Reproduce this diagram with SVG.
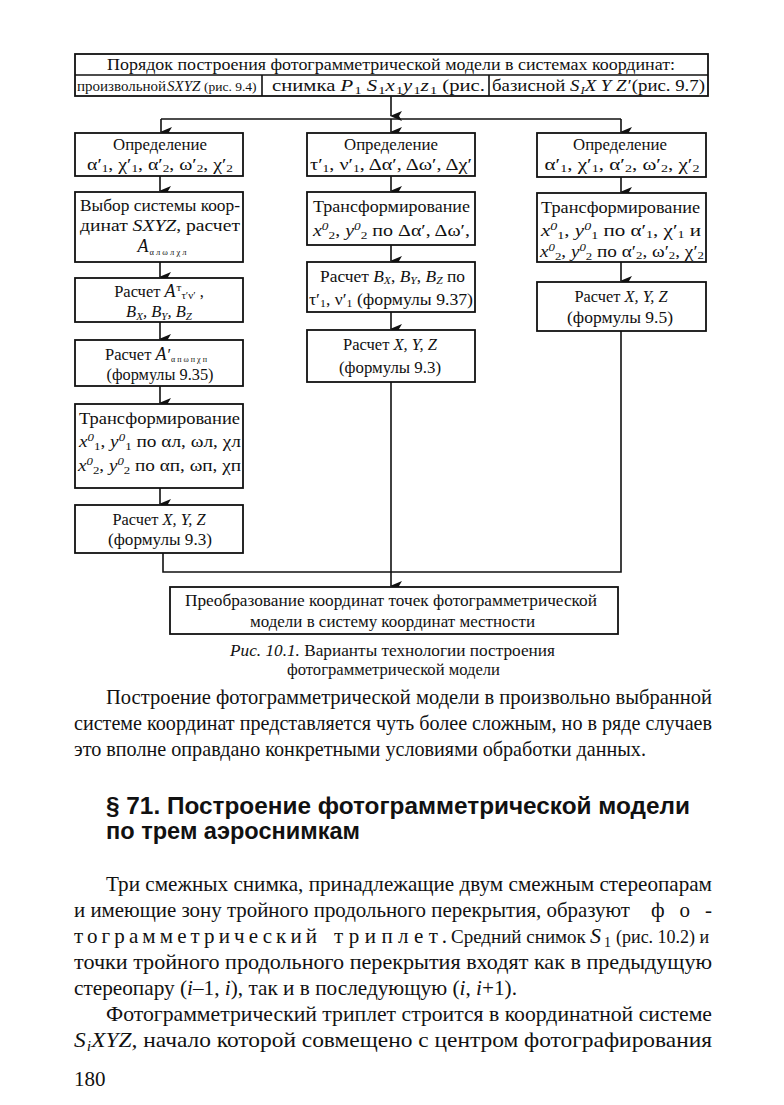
<svg xmlns="http://www.w3.org/2000/svg" width="784" height="1105" viewBox="0 0 784 1105">
<style>
.bx{fill:#fff;stroke:#111;stroke-width:1.8}
.ln{fill:none;stroke:#111;stroke-width:1.6}
.t{font-family:"Liberation Serif","Times New Roman",serif;font-size:16.5px;fill:#111}
.c{text-anchor:middle}
.i{font-style:italic}
.sb{font-size:11px}
.body{font-family:"Liberation Serif","Times New Roman",serif;font-size:21px;fill:#111}
.h{font-family:"Liberation Sans",Arial,sans-serif;font-size:23px;font-weight:bold;fill:#111}
</style>
<defs>
<marker id="ar" markerUnits="userSpaceOnUse" markerWidth="10" markerHeight="12" refX="5" refY="11" orient="auto" viewBox="0 0 10 12">
<path d="M0,0 L5,3 L10,0 L5,12 Z" fill="#111"/>
</marker>
</defs>
<rect width="784" height="1105" fill="#fff"/>

<g id="connectors">
<line class="ln" x1="391" y1="96" x2="391" y2="116" marker-end="url(#ar)"/>
<polyline class="ln" points="161,119 621,119"/>
<line class="ln" x1="161" y1="119" x2="161" y2="132" marker-end="url(#ar)"/>
<line class="ln" x1="391" y1="119" x2="391" y2="132" marker-end="url(#ar)"/>
<line class="ln" x1="621" y1="119" x2="621" y2="132" marker-end="url(#ar)"/>
<line class="ln" x1="160" y1="176" x2="160" y2="191" marker-end="url(#ar)"/>
<line class="ln" x1="160" y1="262" x2="160" y2="277" marker-end="url(#ar)"/>
<line class="ln" x1="160" y1="322" x2="160" y2="339" marker-end="url(#ar)"/>
<line class="ln" x1="160" y1="386" x2="160" y2="403" marker-end="url(#ar)"/>
<line class="ln" x1="160" y1="488" x2="160" y2="504" marker-end="url(#ar)"/>
<polyline class="ln" points="163,553 163,572 621,572 621,331"/>
<line class="ln" x1="391" y1="176" x2="391" y2="191" marker-end="url(#ar)"/>
<line class="ln" x1="391" y1="245" x2="391" y2="261" marker-end="url(#ar)"/>
<line class="ln" x1="391" y1="312" x2="391" y2="329" marker-end="url(#ar)"/>
<line class="ln" x1="391" y1="382" x2="391" y2="586" marker-end="url(#ar)"/>
<line class="ln" x1="621" y1="177" x2="621" y2="192" marker-end="url(#ar)"/>
<line class="ln" x1="621" y1="262" x2="621" y2="281" marker-end="url(#ar)"/>
</g>

<g id="header">
<rect class="bx" x="75" y="54" width="633" height="42"/>
<line class="ln" x1="75" y1="75" x2="708" y2="75"/>
<line class="ln" x1="262" y1="75" x2="262" y2="96"/>
<line class="ln" x1="489" y1="75" x2="489" y2="96"/>
<text class="t" x="107" y="70" textLength="568" lengthAdjust="spacingAndGlyphs">Порядок построения  фотограмметрической модели  в  системах координат:</text>
<text class="t" x="77" y="91" style="font-size:15px">произвольной</text>
<text class="t i" x="167" y="91" style="font-size:15px">SXYZ</text>
<text class="t" x="204" y="91" style="font-size:13.5px">(рис. 9.4)</text>
<text class="t" x="272" y="91" style="font-size:16px" textLength="213" lengthAdjust="spacingAndGlyphs">снимка  <tspan class="i">P</tspan><tspan class="sb" dy="3" dx="1">1</tspan><tspan dy="-3"> </tspan><tspan class="i">S</tspan><tspan class="sb" dy="3" dx="1">1</tspan><tspan class="i" dy="-3">x</tspan><tspan class="sb" dy="3" dx="1">1</tspan><tspan class="i" dy="-3">y</tspan><tspan class="sb" dy="3" dx="1">1</tspan><tspan class="i" dy="-3">z</tspan><tspan class="sb" dy="3" dx="1">1</tspan><tspan dy="-3"> (рис.</tspan></text>
<text class="t" x="492" y="91" textLength="213" lengthAdjust="spacingAndGlyphs">базисной <tspan class="i">S</tspan><tspan class="sb i" dy="3" dx="1">I</tspan><tspan class="i" dy="-3">X Y Z′</tspan><tspan dx="1">(рис. 9.7)</tspan></text>
</g>

<g id="L1">
<rect class="bx" x="75" y="133" width="168" height="43"/>
<text class="t c" x="160" y="150" textLength="94" lengthAdjust="spacingAndGlyphs">Определение</text>
<text class="t c" x="160" y="170" textLength="146" lengthAdjust="spacingAndGlyphs">α′<tspan class="sb" dy="2">1</tspan><tspan dy="-2">, χ′</tspan><tspan class="sb" dy="2">1</tspan><tspan dy="-2">, α′</tspan><tspan class="sb" dy="2">2</tspan><tspan dy="-2">, ω′</tspan><tspan class="sb" dy="2">2</tspan><tspan dy="-2">, χ′</tspan><tspan class="sb" dy="2">2</tspan></text>
</g>

<g id="L2">
<rect class="bx" x="75" y="192" width="168" height="70"/>
<text class="t" x="80" y="211" textLength="160" lengthAdjust="spacingAndGlyphs">Выбор системы коор-</text>
<text class="t" x="80" y="231" textLength="160" lengthAdjust="spacingAndGlyphs">динат <tspan class="i">SXYZ</tspan>,  расчет</text>
<text class="t c" x="162" y="252"><tspan class="i" style="font-size:18px">A</tspan><tspan style="font-size:8.5px" dy="3" dx="1">α л ω л χ л</tspan></text>
</g>

<g id="L3">
<rect class="bx" x="75" y="278" width="168" height="44"/>
<text class="t c" x="159" y="297">Расчет  <tspan class="i" style="font-size:18px">A</tspan><tspan class="sb" dy="-6" dx="1">т</tspan><tspan class="sb" dy="8">τ′ν′</tspan><tspan dy="-2"> ,</tspan></text>
<text class="t c i" x="159" y="317">B<tspan class="sb" dy="3">X</tspan><tspan dy="-3">, B</tspan><tspan class="sb" dy="3">Y</tspan><tspan dy="-3">, B</tspan><tspan class="sb" dy="3">Z</tspan></text>
</g>

<g id="L4">
<rect class="bx" x="75" y="340" width="168" height="46"/>
<text class="t c" x="156" y="360">Расчет  <tspan class="i" style="font-size:18px">A</tspan><tspan dx="1">′</tspan><tspan style="font-size:8px" dy="2">α п ω п χ п</tspan></text>
<text class="t c" x="160" y="380" textLength="107" lengthAdjust="spacingAndGlyphs">(формулы 9.35)</text>
</g>

<g id="L5">
<rect class="bx" x="75" y="404" width="168" height="84"/>
<text class="t" x="79" y="424" textLength="161" lengthAdjust="spacingAndGlyphs">Трансформирование</text>
<text class="t" x="79" y="447" textLength="162" lengthAdjust="spacingAndGlyphs"><tspan class="i">x</tspan><tspan class="sb i" dy="-6">0</tspan><tspan class="sb" dy="9">1</tspan><tspan dy="-3">, </tspan><tspan class="i">y</tspan><tspan class="sb i" dy="-6">0</tspan><tspan class="sb" dy="9">1</tspan><tspan dy="-3"> по αл, ωл, χл</tspan></text>
<text class="t" x="78" y="471" textLength="163" lengthAdjust="spacingAndGlyphs"><tspan class="i">x</tspan><tspan class="sb i" dy="-6">0</tspan><tspan class="sb" dy="9">2</tspan><tspan dy="-3">, </tspan><tspan class="i">y</tspan><tspan class="sb i" dy="-6">0</tspan><tspan class="sb" dy="9">2</tspan><tspan dy="-3">  по αп, ωп, χп</tspan></text>
</g>

<g id="L6">
<rect class="bx" x="75" y="505" width="168" height="48"/>
<text class="t c" x="159" y="525" textLength="93" lengthAdjust="spacingAndGlyphs">Расчет <tspan class="i">X, Y, Z</tspan></text>
<text class="t c" x="160" y="545" textLength="104" lengthAdjust="spacingAndGlyphs">(формулы 9.3)</text>
</g>

<g id="M1">
<rect class="bx" x="307" y="133" width="168" height="43"/>
<text class="t c" x="391" y="150" textLength="94" lengthAdjust="spacingAndGlyphs">Определение</text>
<text class="t" x="310" y="170" textLength="162" lengthAdjust="spacingAndGlyphs">τ′<tspan class="sb" dy="2">1</tspan><tspan dy="-2">, ν′</tspan><tspan class="sb" dy="2">1</tspan><tspan dy="-2">, Δα′, Δω′, Δχ′</tspan></text>
</g>

<g id="M2">
<rect class="bx" x="307" y="192" width="168" height="53"/>
<text class="t" x="313" y="212" textLength="157" lengthAdjust="spacingAndGlyphs">Трансформирование</text>
<text class="t" x="313" y="236" textLength="157" lengthAdjust="spacingAndGlyphs"><tspan class="i">x</tspan><tspan class="sb i" dy="-6">0</tspan><tspan class="sb" dy="9">2</tspan><tspan dy="-3">, </tspan><tspan class="i">y</tspan><tspan class="sb i" dy="-6">0</tspan><tspan class="sb" dy="9">2</tspan><tspan dy="-3"> по Δα′, Δω′,</tspan></text>
</g>

<g id="M3">
<rect class="bx" x="307" y="262" width="168" height="50"/>
<text class="t" x="320" y="282" textLength="145" lengthAdjust="spacingAndGlyphs">Расчет <tspan class="i">B</tspan><tspan class="sb i" dy="2">X</tspan><tspan dy="-2">, </tspan><tspan class="i">B</tspan><tspan class="sb i" dy="2">Y</tspan><tspan dy="-2">, </tspan><tspan class="i">B</tspan><tspan class="sb i" dy="2">Z</tspan><tspan dy="-2">  по</tspan></text>
<text class="t" x="309" y="305" textLength="164" lengthAdjust="spacingAndGlyphs">τ′<tspan class="sb" dy="2">1</tspan><tspan dy="-2">, ν′</tspan><tspan class="sb" dy="2">1</tspan><tspan dy="-2"> (формулы 9.37)</tspan></text>
</g>

<g id="M4">
<rect class="bx" x="307" y="330" width="168" height="52"/>
<text class="t c" x="390" y="350" textLength="94" lengthAdjust="spacingAndGlyphs">Расчет <tspan class="i">X, Y, Z</tspan></text>
<text class="t c" x="390" y="373" textLength="102" lengthAdjust="spacingAndGlyphs">(формулы 9.3)</text>
</g>

<g id="R1">
<rect class="bx" x="537" y="133" width="169" height="44"/>
<text class="t c" x="620" y="150" textLength="94" lengthAdjust="spacingAndGlyphs">Определение</text>
<text class="t c" x="622" y="170" textLength="155" lengthAdjust="spacingAndGlyphs">α′<tspan class="sb" dy="2">1</tspan><tspan dy="-2">, χ′</tspan><tspan class="sb" dy="2">1</tspan><tspan dy="-2">, α′</tspan><tspan class="sb" dy="2">2</tspan><tspan dy="-2">, ω′</tspan><tspan class="sb" dy="2">2</tspan><tspan dy="-2">, χ′</tspan><tspan class="sb" dy="2">2</tspan></text>
</g>

<g id="R2">
<rect class="bx" x="537" y="193" width="169" height="69"/>
<text class="t" x="541" y="213" textLength="159" lengthAdjust="spacingAndGlyphs">Трансформирование</text>
<text class="t" x="541" y="236" textLength="160" lengthAdjust="spacingAndGlyphs"><tspan class="i">x</tspan><tspan class="sb i" dy="-6">0</tspan><tspan class="sb" dy="9">1</tspan><tspan dy="-3">, </tspan><tspan class="i">y</tspan><tspan class="sb i" dy="-6">0</tspan><tspan class="sb" dy="9">1</tspan><tspan dy="-3">  по α′</tspan><tspan class="sb" dy="2">1</tspan><tspan dy="-2">, χ′</tspan><tspan class="sb" dy="2">1</tspan><tspan dy="-2"> и</tspan></text>
<text class="t" x="540" y="257" textLength="164" lengthAdjust="spacingAndGlyphs"><tspan class="i">x</tspan><tspan class="sb i" dy="-6">0</tspan><tspan class="sb" dy="9">2</tspan><tspan dy="-3">, </tspan><tspan class="i">y</tspan><tspan class="sb i" dy="-6">0</tspan><tspan class="sb" dy="9">2</tspan><tspan dy="-3">  по α′</tspan><tspan class="sb" dy="2">2</tspan><tspan dy="-2">, ω′</tspan><tspan class="sb" dy="2">2</tspan><tspan dy="-2">, χ′</tspan><tspan class="sb" dy="2">2</tspan></text>
</g>

<g id="R3">
<rect class="bx" x="537" y="282" width="169" height="49"/>
<text class="t c" x="621" y="302" textLength="93" lengthAdjust="spacingAndGlyphs">Расчет <tspan class="i">X, Y, Z</tspan></text>
<text class="t c" x="620" y="323" textLength="106" lengthAdjust="spacingAndGlyphs">(формулы 9.5)</text>
</g>

<g id="B1">
<rect class="bx" x="170" y="587" width="448" height="47"/>
<text class="t" x="185" y="606" textLength="412" lengthAdjust="spacingAndGlyphs">Преобразование координат точек фотограмметрической</text>
<text class="t" x="250" y="627" textLength="285" lengthAdjust="spacingAndGlyphs">модели в систему координат местности</text>
</g>

<g id="caption">
<text class="t" x="230" y="656" textLength="325" lengthAdjust="spacingAndGlyphs"><tspan class="i">Рис. 10.1.</tspan> Варианты технологии построения</text>
<text class="t" x="287" y="675" textLength="213" lengthAdjust="spacingAndGlyphs">фотограмметрической модели</text>
</g>

<g id="body">
<text class="body" x="106" y="704" textLength="606" lengthAdjust="spacingAndGlyphs">Построение фотограмметрической модели в произвольно выбранной</text>
<text class="body" x="74" y="730" textLength="638" lengthAdjust="spacingAndGlyphs">системе координат представляется чуть более сложным, но в ряде случаев</text>
<text class="body" x="74" y="756" textLength="572" lengthAdjust="spacingAndGlyphs">это вполне оправдано конкретными условиями обработки данных.</text>
<text class="h" x="106" y="814" textLength="584" lengthAdjust="spacingAndGlyphs">§ 71. Построение фотограмметрической модели</text>
<text class="h" x="106" y="839" textLength="254" lengthAdjust="spacingAndGlyphs">по трем аэроснимкам</text>
<text class="body" x="106" y="891" textLength="606" lengthAdjust="spacingAndGlyphs">Три смежных снимка, принадлежащие двум смежным стереопарам</text>
<text class="body" x="74" y="917" textLength="556" lengthAdjust="spacingAndGlyphs">и имеющие зону тройного продольного перекрытия, образуют</text>
<text class="body" x="651" y="917" textLength="61" lengthAdjust="spacing">фо-</text>
<text class="body" x="74" y="943" textLength="243" lengthAdjust="spacing">тограмметрический</text>
<text class="body" x="334" y="943" textLength="113" lengthAdjust="spacing">триплет.</text>
<text class="body" x="451" y="943" style="font-size:19px">Средний снимок</text>
<text class="body i" x="590" y="943" style="font-size:22px">S</text>
<text class="body" x="604" y="947" style="font-size:14px">1</text>
<text class="body" x="616" y="943" style="font-size:18px">(рис. 10.2) и</text>
<text class="body" x="74" y="969" textLength="638" lengthAdjust="spacingAndGlyphs">точки тройного продольного перекрытия входят как в предыдущую</text>
<text class="body" x="74" y="995" textLength="443" lengthAdjust="spacingAndGlyphs">стереопару (<tspan class="i">i</tspan>–1, <tspan class="i">i</tspan>), так и в последующую (<tspan class="i">i</tspan>, <tspan class="i">i</tspan>+1).</text>
<text class="body" x="106" y="1021" textLength="606" lengthAdjust="spacingAndGlyphs">Фотограмметрический триплет строится в координатной системе</text>
<text class="body" x="74" y="1047" textLength="638" lengthAdjust="spacingAndGlyphs"><tspan class="i">S</tspan><tspan class="i" style="font-size:14px" dy="4" dx="1">i</tspan><tspan class="i" dy="-4">XYZ,</tspan>  начало  которой  совмещено  с  центром  фотографирования</text>
<text class="body" x="74" y="1086">180</text>
</g>
</svg>
